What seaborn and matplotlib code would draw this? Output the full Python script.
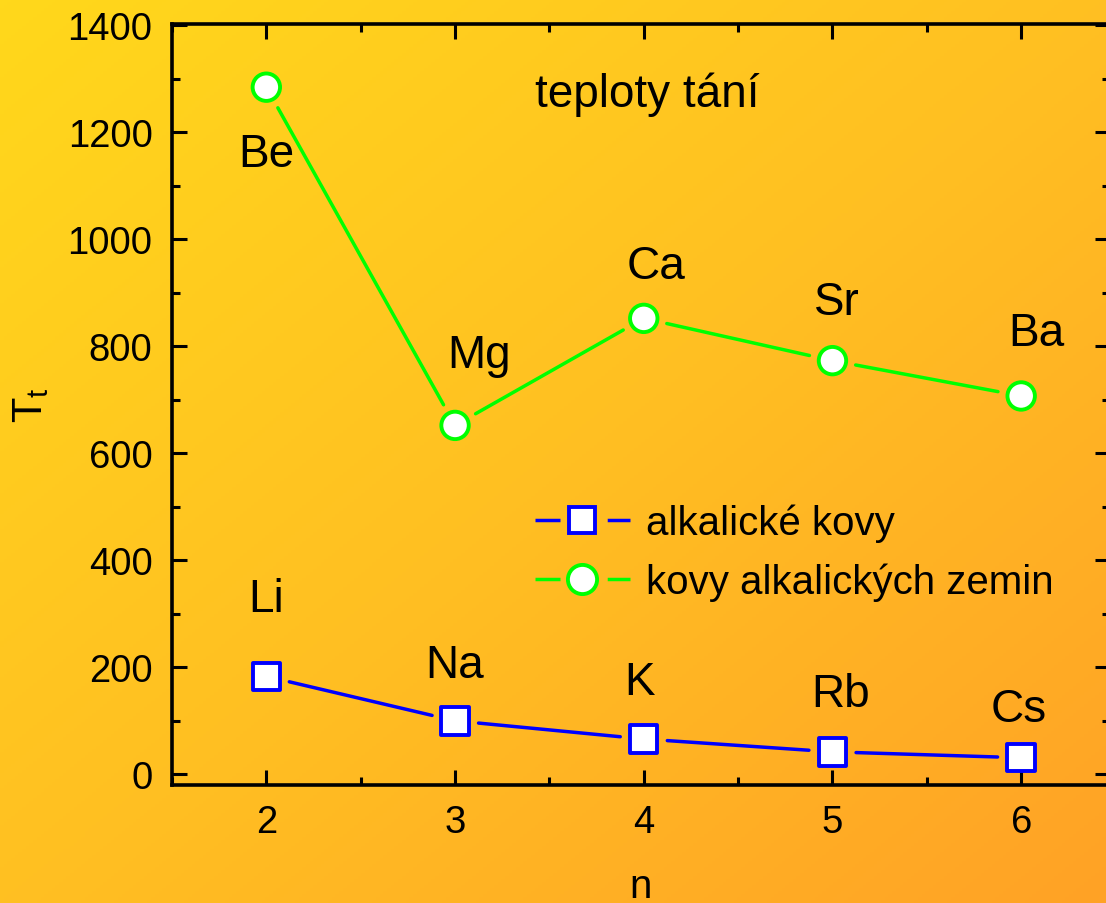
import numpy as np
import pandas as pd
import matplotlib
matplotlib.use("Agg")
import matplotlib.pyplot as plt
import seaborn as sns
from matplotlib.colors import LinearSegmentedColormap
from matplotlib.lines import Line2D
from matplotlib.ticker import MultipleLocator

# data: melting points (deg C) vs period n
n_vals = [2, 3, 4, 5, 6]
alkali_names = ['Li', 'Na', 'K', 'Rb', 'Cs']
alkali_tt = [183, 100, 66, 42, 31]
earth_names = ['Be', 'Mg', 'Ca', 'Sr', 'Ba']
earth_tt = [1284, 652, 852, 773, 707]

series_labels = ['alkalické kovy', 'kovy alkalických zemin']
title_text = 'teploty tání'

# label offsets (points) relative to the marker
alkali_off = [(0, 56), (0, 40), (-3, 41), (6, 42), (-2, 35)]
earth_off = [(0, -48), (17, 51), (9, 38), (3, 42), (11, 45)]

df = pd.DataFrame({
    'n': n_vals * 2,
    'Tt': alkali_tt + earth_tt,
    'group': [series_labels[0]] * 5 + [series_labels[1]] * 5,
})

sns.set_theme(style='ticks')
plt.rcParams['font.family'] = ['Liberation Sans', 'DejaVu Sans']
plt.rcParams['mathtext.fontset'] = 'custom'
plt.rcParams['mathtext.rm'] = 'Liberation Sans'
plt.rcParams['lines.scale_dashes'] = False
plt.rcParams['text.color'] = 'black'
plt.rcParams['axes.labelcolor'] = 'black'
plt.rcParams['xtick.color'] = 'black'
plt.rcParams['ytick.color'] = 'black'

fig = plt.figure(figsize=(11.06, 9.04), dpi=100)

# gradient background
bg = fig.add_axes([0, 0, 1, 1], zorder=-10)
xx, yy = np.meshgrid(np.linspace(0, 1, 300), np.linspace(0, 1, 300))
grad = (xx + yy) / 2
cmap = LinearSegmentedColormap.from_list('bg', ['#FFD81B', '#FFC022', '#FFA226'])
bg.imshow(grad, cmap=cmap, aspect='auto', extent=[0, 1, 0, 1], origin='upper')
bg.set_axis_off()

ax = fig.add_axes([0.1555, 0.1305, 0.848, 0.8418])
ax.patch.set_alpha(0)

palette = {series_labels[0]: '#0000FF', series_labels[1]: '#00FF00'}
markers = {series_labels[0]: 's', series_labels[1]: 'o'}

# connecting lines with small gaps at the markers
for vals, col in [(alkali_tt, '#0000FF'), (earth_tt, '#00FF00')]:
    for i in range(len(vals) - 1):
        ax.annotate('', xy=(n_vals[i + 1], vals[i + 1]), xytext=(n_vals[i], vals[i]),
                    arrowprops=dict(arrowstyle='-', color=col, lw=2.5,
                                    shrinkA=17, shrinkB=17))

sns.scatterplot(data=df, x='n', y='Tt', hue='group', style='group',
                palette=palette, markers=markers, ax=ax, legend=False,
                s=390, linewidth=2.8, zorder=5)
# hue colours go to the edge, face stays white
for coll in ax.collections:
    fc = coll.get_facecolors()
    coll.set_edgecolors(fc)
    coll.set_facecolors('white')

for x, y, name, off in zip(n_vals, alkali_tt, alkali_names, alkali_off):
    ax.annotate(name, (x, y), xytext=off, textcoords='offset points',
                ha='center', va='center', fontsize=33)
for x, y, name, off in zip(n_vals, earth_tt, earth_names, earth_off):
    ax.annotate(name, (x, y), xytext=off, textcoords='offset points',
                ha='center', va='center', fontsize=33)

ax.text(0.507, 0.908, title_text, transform=ax.transAxes, ha='center', va='center', fontsize=33)

ax.set_xlim(1.5, 6.47)
ax.set_ylim(-20, 1402)
ax.xaxis.set_major_locator(MultipleLocator(1))
ax.xaxis.set_minor_locator(MultipleLocator(0.5))
ax.yaxis.set_major_locator(MultipleLocator(200))
ax.yaxis.set_minor_locator(MultipleLocator(100))
ax.tick_params(which='both', direction='in', top=True, right=True, width=2.2, colors='black')
ax.tick_params(which='major', length=11, labelsize=27.5, pad=14)
ax.tick_params(which='minor', length=6)
for sp in ax.spines.values():
    sp.set_linewidth(2.6)
    sp.set_color('black')
    sp.set_visible(True)

ax.set_xlabel('n', fontsize=29, labelpad=19)
ax.set_ylabel(r'T$_\mathrm{t}$', fontsize=30, labelpad=12)

handles = [
    Line2D([], [], color='#0000FF', lw=2.5, marker='s', markersize=19, markerfacecolor='white',
           markeredgecolor='#0000FF', markeredgewidth=2.8, dashes=[18, 34]),
    Line2D([], [], color='#00FF00', lw=2.5, marker='o', markersize=21, markerfacecolor='white',
           markeredgecolor='#00FF00', markeredgewidth=2.8, dashes=[18, 34]),
]
ax.legend(handles, series_labels, loc='center left', bbox_to_anchor=(0.387, 0.306),
          frameon=False, fontsize=29, handlelength=2.35, handletextpad=0.4,
          labelspacing=0.52, borderpad=0, borderaxespad=0)

fig.savefig('out.png', dpi=100)
